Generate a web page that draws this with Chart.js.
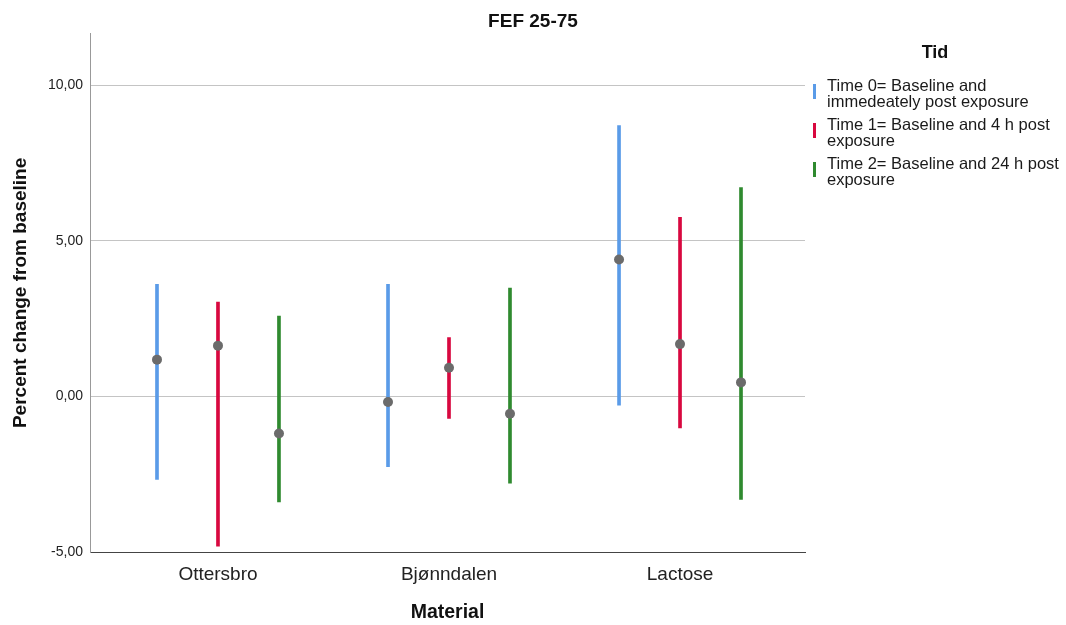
<!DOCTYPE html>
<html>
<head>
<meta charset="utf-8">
<script src="https://cdn.jsdelivr.net/npm/chart.js@4/dist/chart.umd.min.js"></script>
<style>
  html, body { margin: 0; padding: 0; background: #fff; }
  #wrap { width: 1066px; height: 625px; }
</style>
</head>
<body>
<div id="wrap"><canvas id="myChart" width="1066" height="625"></canvas></div>
<script>
// categories and series
var categories = ['Ottersbro', 'Bjønndalen', 'Lactose'];
var seriesNames = [
    'Time 0= Baseline and immedeately post exposure',
    'Time 1= Baseline and 4 h post exposure',
    'Time 2= Baseline and 24 h post exposure'
];
var yTicks = [-5, 0, 5, 10];

// means and 95% CI ends, per series
var mean0 = [1.18, -0.18, 4.40];
var low0 = [-2.67, -2.26, -0.28];
var high0 = [3.60, 3.60, 8.70];

var mean1 = [1.63, 0.92, 1.68];
var low1 = [-4.81, -0.71, -1.01];
var high1 = [3.03, 1.89, 5.75];

var mean2 = [-1.19, -0.56, 0.45];
var low2 = [-3.39, -2.79, -3.31];
var high2 = [2.58, 3.48, 6.71];

var means = [mean0, mean1, mean2];
var lows = [low0, low1, low2];
var highs = [high0, high1, high2];

var colors = ['#5a9be8', '#d8083f', '#2f8a2f'];
var offsets = [-0.264, 0, 0.264];
var FONT = "'Liberation Sans', Arial, sans-serif";

Chart.defaults.font.family = FONT;
Chart.defaults.color = '#222';

var datasets = [];
for (var s = 0; s < 3; s++) {
    var bars = [];
    for (var i = 0; i < categories.length; i++) {
        bars.push({ x: i + offsets[s], y: [lows[s][i], highs[s][i]] });
    }
    datasets.push({
        type: 'bar',
        label: seriesNames[s],
        data: bars,
        backgroundColor: colors[s],
        borderWidth: 0,
        barThickness: 3,
        grouped: false,
        order: 2
    });
}
var pts = [];
for (var s = 0; s < 3; s++) {
    for (var i = 0; i < categories.length; i++) {
        pts.push({ x: i + offsets[s], y: means[s][i] });
    }
}
datasets.push({
    type: 'scatter',
    label: 'mean',
    data: pts,
    pointRadius: 5,
    pointBackgroundColor: '#6b6b6b',
    pointBorderWidth: 0,
    order: 0
});

function wrapText(ctx, text, maxW) {
    var words = text.split(' ');
    var lines = [];
    var cur = '';
    for (var i = 0; i < words.length; i++) {
        var t = cur ? cur + ' ' + words[i] : words[i];
        if (ctx.measureText(t).width > maxW && cur) {
            lines.push(cur);
            cur = words[i];
        } else {
            cur = t;
        }
    }
    lines.push(cur);
    return lines;
}

// legend on the right, drawn like the SPSS one
var sideLegend = {
    id: 'sideLegend',
    afterDraw: function (chart) {
        var ctx = chart.ctx;
        ctx.save();
        ctx.fillStyle = '#111';
        ctx.textAlign = 'center';
        ctx.textBaseline = 'middle';
        ctx.font = 'bold 18px ' + FONT;
        ctx.fillText('Tid', 935, 53);

        ctx.font = '16.5px ' + FONT;
        ctx.textAlign = 'left';
        var y = 86;
        for (var s = 0; s < seriesNames.length; s++) {
            var lines = wrapText(ctx, seriesNames[s], 239);
            ctx.fillStyle = colors[s];
            ctx.fillRect(813, y - 2, 3, 15);
            ctx.fillStyle = '#1a1a1a';
            for (var k = 0; k < lines.length; k++) {
                ctx.fillText(lines[k], 827, y + k * 16);
            }
            y += lines.length * 16 + 7;
        }
        ctx.restore();
    }
};

var ctx = document.getElementById('myChart').getContext('2d');
var myChart = new Chart(ctx, {
    type: 'bar',
    data: { datasets: datasets },
    plugins: [sideLegend],
    options: {
        responsive: false,
        animation: false,
        devicePixelRatio: 1,
        layout: { padding: 0 },
        plugins: {
            legend: { display: false },
            tooltip: { enabled: false },
            title: {
                display: true,
                text: 'FEF 25-75',
                color: '#111',
                font: { size: 19, weight: 'bold' },
                padding: { top: 10, bottom: 1 }
            }
        },
        scales: {
            x: {
                type: 'linear',
                offset: false,
                min: -0.554,
                max: 2.541,
                grid: { display: false, drawTicks: false },
                border: { display: true, color: '#444', width: 1 },
                afterBuildTicks: function (scale) {
                    scale.ticks = categories.map(function (c, i) { return { value: i }; });
                },
                ticks: {
                    padding: 11,
                    font: { size: 19 },
                    color: '#222',
                    callback: function (v) { return categories[v]; }
                },
                title: {
                    display: true,
                    text: 'Material',
                    color: '#111',
                    font: { size: 19.5, weight: 'bold' },
                    padding: { top: 0, bottom: 1 }
                },
                afterFit: function (scale) { scale.height = 73; }
            },
            y: {
                min: -5,
                max: 11.65,
                grid: { color: '#c4c4c4', drawTicks: false },
                border: { display: true, color: '#999', width: 1 },
                afterBuildTicks: function (scale) {
                    scale.ticks = yTicks.map(function (v) { return { value: v }; });
                },
                ticks: {
                    padding: 7,
                    font: { size: 14 },
                    color: '#222',
                    callback: function (v) { return v.toFixed(2).replace('.', ','); }
                },
                title: {
                    display: true,
                    text: 'Percent change from baseline',
                    color: '#111',
                    font: { size: 19, weight: 'bold' },
                    padding: { top: 9, bottom: 0 }
                },
                afterFit: function (scale) { scale.width = 90; }
            },
            pad: {
                type: 'linear',
                position: 'right',
                display: true,
                grid: { display: false, drawTicks: false },
                border: { display: false },
                ticks: { display: false },
                afterFit: function (scale) { scale.width = 261; }
            }
        }
    }
});
</script>
</body>
</html>
